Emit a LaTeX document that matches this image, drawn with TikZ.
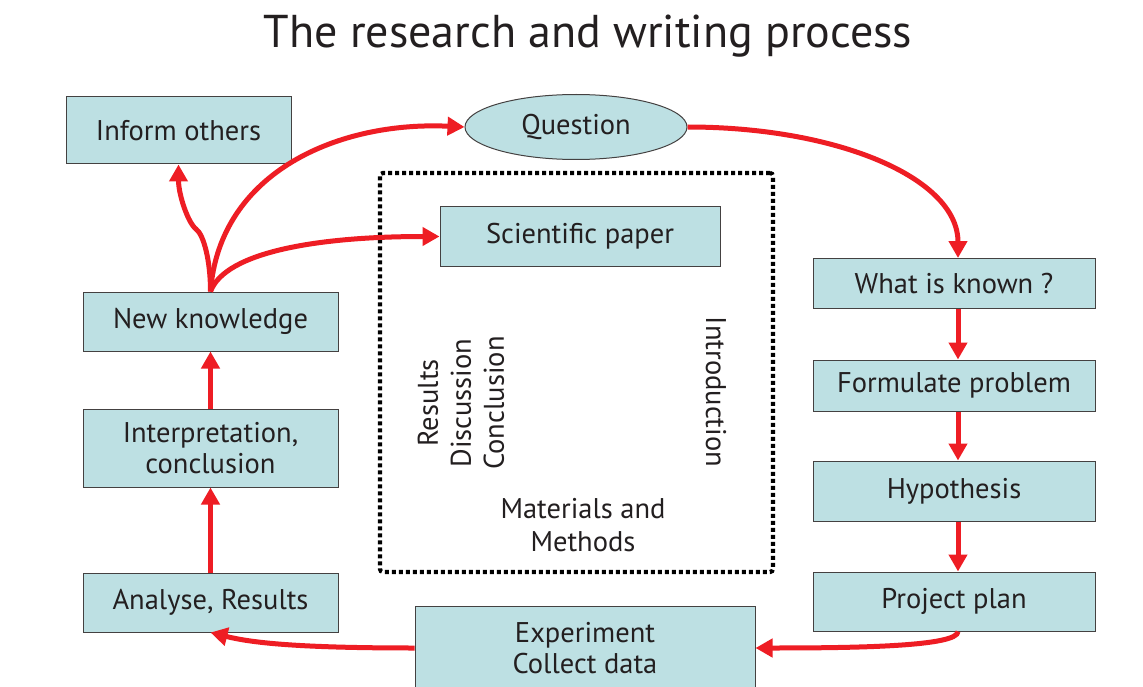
\documentclass[tikz,border=0pt]{standalone}
\usepackage{fontspec}
\setmainfont{PT Sans}
\usetikzlibrary{arrows.meta,shapes.geometric}
\definecolor{boxfill}{HTML}{BDE0E3}
\definecolor{arrred}{HTML}{EE1D24}
\definecolor{ink}{HTML}{231F20}
\begin{document}
\begin{tikzpicture}[x=1pt,y=-1pt,
  box/.style={draw=ink!85, line width=1pt, fill=boxfill, text=ink,
    font=\fontsize{28.5}{31}\selectfont, inner sep=0pt, align=center},
  arr/.style={draw=arrred, line width=5pt, -{Triangle[length=17pt,width=18pt]}},
  lbl/.style={text=ink, font=\fontsize{28.5}{33}\selectfont, align=center, inner sep=0pt},
  frame/.style={draw=black, line width=4.2pt, dash pattern=on 4pt off 3pt, rounded corners=3pt}]
\useasboundingbox (0,0) rectangle (1143,687);
\fill[white] (0,0) rectangle (1143,687);

\node[text=ink, font=\fontsize{46}{54}\selectfont, inner sep=0pt] (title) at (588,36) {The research and writing process};

\node[frame, minimum width=393pt, minimum height=399pt] (paperframe) at (576.5,372.5) {};

\node[box, minimum width=225pt, minimum height=67pt] (inform) at (178.5,130.5) {Inform others};
\node[box, ellipse, minimum width=222pt, minimum height=65pt] (question) at (576,127) {Question};
\node[box, minimum width=280pt, minimum height=59pt] (sci) at (580,236.5) {Scientific paper};
\node[box, minimum width=255pt, minimum height=59pt] (nk) at (210.5,321.5) {New knowledge};
\node[box, minimum width=255pt, minimum height=78pt] (interp) at (210.5,448) {Interpretation,\\conclusion};
\node[box, minimum width=255pt, minimum height=59pt] (an) at (210.5,602.5) {Analyse, Results};
\node[box, minimum width=340pt, minimum height=84pt] (exp) at (585,648) {Experiment\\Collect data};
\node[box, minimum width=282pt, minimum height=50pt] (wik) at (954,283.5) {What is known ?};
\node[box, minimum width=282pt, minimum height=51pt] (form) at (954,385.5) {Formulate problem};
\node[box, minimum width=282pt, minimum height=60pt] (hyp) at (954,491) {Hypothesis};
\node[box, minimum width=282pt, minimum height=59pt] (plan) at (954,601.5) {Project plan};

\node[lbl, rotate=90] (rdc) at (461,403) {Results\\Discussion\\Conclusion};
\node[lbl, rotate=-90] (intro) at (716,392) {Introduction};
\node[lbl] (mm) at (583,525) {Materials and\\Methods};

\coordinate (kink) at (196,229);
\draw[arr] (nk.north) .. controls +(0,-30) and +(8,6) .. (kink)
  .. controls +(-8,-6) and +(0,30) .. (inform.south);
\draw[arr] (nk.north) .. controls +(9,-120) and +(-125,-6) .. (question.west);
\draw[arr] (nk.north) .. controls +(15,-40) and +(-120,0) .. (sci.west);
\draw[arr] (question.east) .. controls +(150,0) and +(0,-80) .. ([xshift=4pt]wik.north);
\draw[arr] ([xshift=4pt]wik.south) -- ([xshift=4pt]form.north);
\draw[arr] ([xshift=4pt]form.south) -- ([xshift=4pt]hyp.north);
\draw[arr] ([xshift=4pt]hyp.south) -- ([xshift=4pt]plan.north);
\draw[arr] ([xshift=4pt]plan.south) .. controls +(0,15) and +(100,0) .. (exp.east);
\draw[arr] (exp.west) .. controls +(-120,0) and +(40,10) .. (an.south);
\draw[arr] (an.north) -- (interp.south);
\draw[arr] (interp.north) -- (nk.south);
\end{tikzpicture}
\end{document}
